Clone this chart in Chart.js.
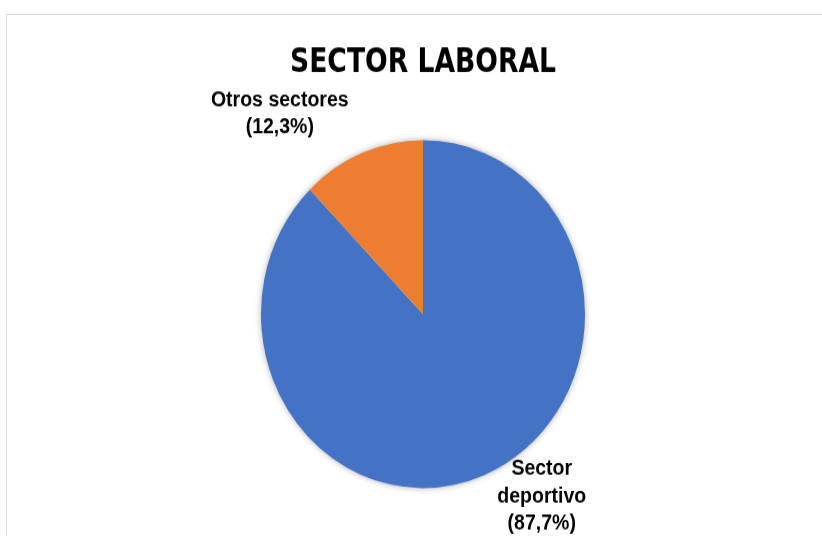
<!DOCTYPE html>
<html>
<head>
<meta charset="utf-8">
<script src="https://cdn.jsdelivr.net/npm/chart.js@4.4.1/dist/chart.umd.min.js"></script>
<style>
    html, body { margin: 0; padding: 0; background: #fff; overflow: hidden; }
    #page { position: relative; width: 822px; height: 536px; overflow: hidden; }
    #frame {
        position: absolute; left: 6px; top: 14px; width: 900px; height: 600px;
        border: 1px solid #d9d9d9; box-sizing: border-box;
    }
    /* the reference is slightly stretched vertically, so draw flat and stretch */
    #stretch {
        position: absolute; left: 0; top: 0; width: 822px; height: 499px;
        transform: scaleY(1.0741); transform-origin: 0 0;
    }
</style>
</head>
<body>
<div id="page">
    <div id="frame"></div>
    <div id="stretch"><canvas id="pieChart"></canvas></div>
</div>
<script>
// --- Data ---
const TITLE = 'SECTOR LABORAL';
const categories = ['Sector deportivo', 'Otros sectores'];
const labelLines = [['Sector', 'deportivo'], ['Otros sectores']];
const values = [87.7, 12.3];
const colors = ['#4472C4', '#ED7D31'];

// label placement relative to slice mid-angle (deg shift, radius factor)
const labelPlacement = [
    { shift: -12.8, dist: 1.28 },
    { shift: -15.4, dist: 1.451 }
];

const LABEL_FONT = 'bold 19.5px "Liberation Sans", Arial, sans-serif';
const LABEL_LINE = 25.6;
const TITLE_FONT = 'bold 32px "DejaVu Sans Condensed", "Liberation Sans", sans-serif';

// soft shadow behind the pie
const pieShadow = {
    id: 'pieShadow',
    beforeDatasetsDraw(chart) {
        const arc = chart.getDatasetMeta(0).data[0];
        if (!arc) return;
        const ctx = chart.ctx;
        ctx.save();
        ctx.shadowColor = 'rgba(0,0,0,0.35)';
        ctx.shadowBlur = 7;
        ctx.fillStyle = '#ffffff';
        ctx.beginPath();
        ctx.arc(arc.x, arc.y, arc.outerRadius - 0.5, 0, Math.PI * 2);
        ctx.fill();
        ctx.restore();
    }
};

// title drawn a bit narrower (Calibri-like proportions)
const narrowTitle = {
    id: 'narrowTitle',
    afterDraw(chart) {
        const ctx = chart.ctx;
        const cx = chart.getDatasetMeta(0).data[0].x;
        ctx.save();
        ctx.font = TITLE_FONT;
        ctx.fillStyle = '#000000';
        ctx.textAlign = 'center';
        ctx.textBaseline = 'alphabetic';
        ctx.translate(cx, 66.8);
        ctx.scale(0.925, 1);
        ctx.fillText(TITLE, 0, 0);
        ctx.restore();
    }
};

// category + percent labels outside the slices
const sliceLabels = {
    id: 'sliceLabels',
    afterDatasetsDraw(chart) {
        const ctx = chart.ctx;
        const meta = chart.getDatasetMeta(0);
        ctx.save();
        ctx.font = LABEL_FONT;
        ctx.fillStyle = '#000000';
        ctx.textAlign = 'center';
        ctx.textBaseline = 'middle';
        meta.data.forEach((arc, i) => {
            const p = arc.getProps(['x', 'y', 'startAngle', 'endAngle', 'outerRadius'], true);
            const mid = (p.startAngle + p.endAngle) / 2 + labelPlacement[i].shift * Math.PI / 180;
            const r = p.outerRadius * labelPlacement[i].dist;
            const cx = p.x + Math.cos(mid) * r;
            const cy = p.y + Math.sin(mid) * r;
            const lines = labelLines[i].concat(['(' + values[i].toFixed(1).replace('.', ',') + '%)']);
            const top = cy - (lines.length - 1) * LABEL_LINE / 2;
            lines.forEach((t, j) => ctx.fillText(t, cx, top + j * LABEL_LINE));
        });
        ctx.restore();
    }
};

new Chart(document.getElementById('pieChart'), {
    type: 'pie',
    data: {
        labels: categories,
        datasets: [{
            data: values,
            backgroundColor: colors,
            borderWidth: 0
        }]
    },
    options: {
        responsive: true,
        maintainAspectRatio: false,
        animation: false,
        layout: { padding: { left: 24, right: 0, top: 130.4, bottom: 44.6 } },
        plugins: {
            legend: { display: false },
            tooltip: { enabled: false },
            title: { display: false }
        }
    },
    plugins: [pieShadow, sliceLabels, narrowTitle]
});
</script>
</body>
</html>
